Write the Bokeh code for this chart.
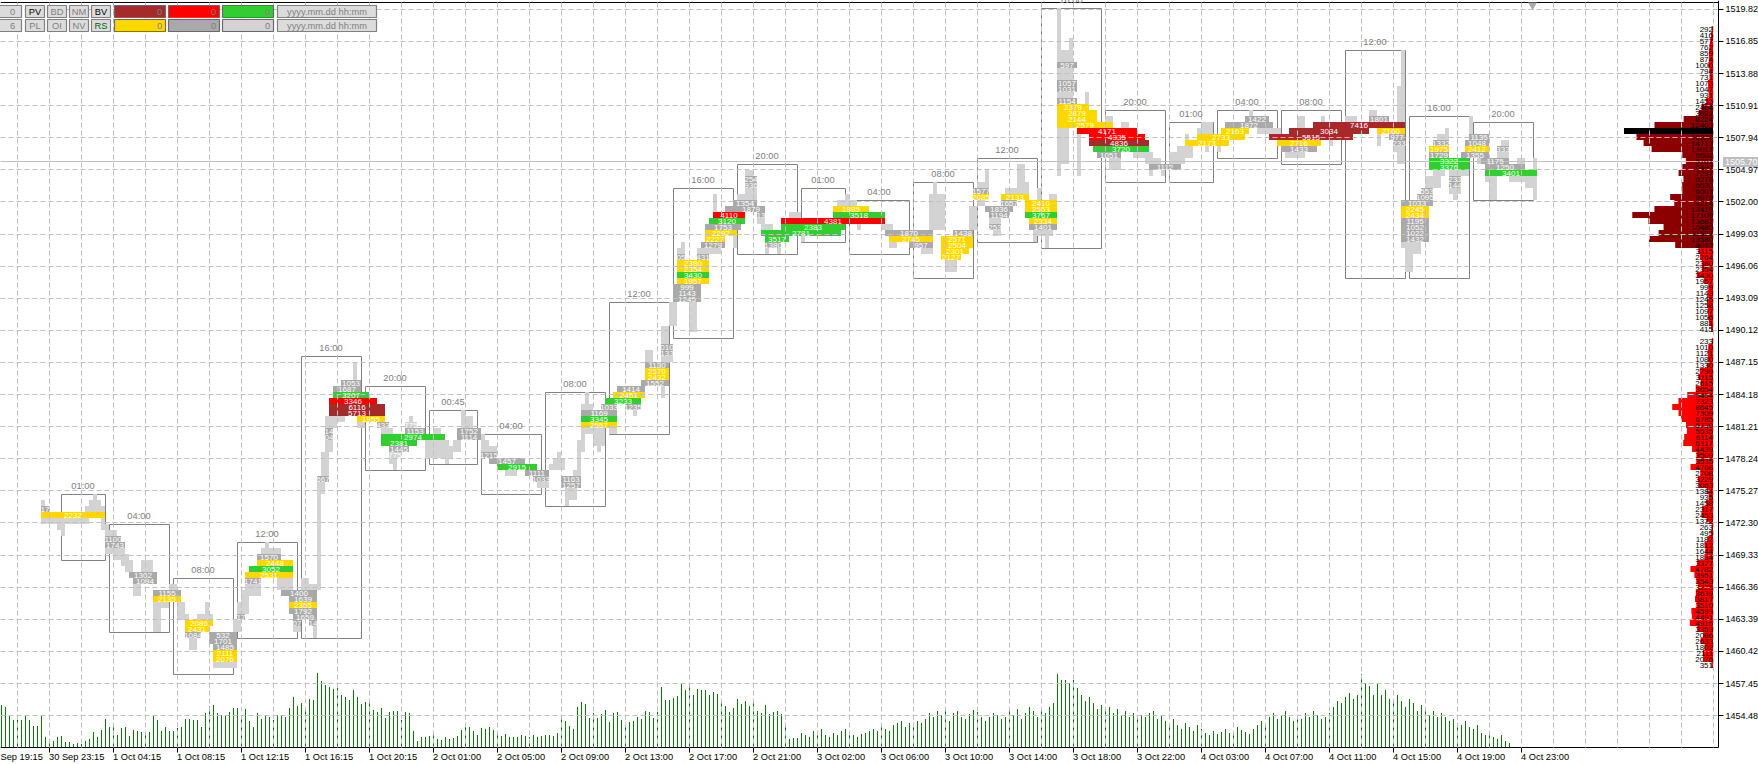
from bokeh.plotting import figure
from bokeh.embed import file_html
from bokeh.resources import INLINE
from bokeh.core.properties import value
from bokeh.models import ColumnDataSource, FixedTicker, Label, LabelSet, NumeralTickFormatter, Range1d

# ---- price scale -----------------------------------------------------------
PRICE_TICKS = [1519.82, 1516.85, 1513.88, 1510.91, 1507.94, 1504.97, 1502.00, 1499.03,
               1496.06, 1493.09, 1490.12, 1487.15, 1484.18, 1481.21, 1478.24, 1475.27,
               1472.30, 1469.33, 1466.36, 1463.39, 1460.42, 1457.45, 1454.48]
LAST_PRICE = 1505.70
TOP_PRICE = 1520.495   # price at the upper edge of the topmost price level
LEVEL_STEP = 0.55504   # price height of one level

# ---- time axis ---------------------------------------------------------------
TIME_LABELS = ["Sep 19:15", "30 Sep 23:15", "1 Oct 04:15", "1 Oct 08:15", "1 Oct 12:15",
               "1 Oct 16:15", "1 Oct 20:15", "2 Oct 01:00", "2 Oct 05:00", "2 Oct 09:00",
               "2 Oct 13:00", "2 Oct 17:00", "2 Oct 21:00", "3 Oct 02:00", "3 Oct 06:00",
               "3 Oct 10:00", "3 Oct 14:00", "3 Oct 18:00", "3 Oct 22:00", "4 Oct 03:00",
               "4 Oct 07:00", "4 Oct 11:00", "4 Oct 15:00", "4 Oct 19:00", "4 Oct 23:00"]

# ---- sessions: label, first slot, last slot, top level, bottom level ----------
SESSIONS = [
    ("01:00", 15, 26, 82, 93), ("04:00", 27, 42, 87, 105), ("08:00", 43, 58, 96, 112),
    ("12:00", 59, 74, 90, 106), ("16:00", 75, 90, 59, 106), ("20:00", 91, 106, 64, 78),
    ("00:45", 107, 119, 68, 77), ("04:00", 120, 135, 72, 82), ("08:00", 136, 151, 65, 84),
    ("12:00", 152, 167, 50, 72), ("16:00", 168, 183, 31, 56), ("20:00", 184, 199, 27, 42),
    ("01:00", 200, 211, 31, 40), ("04:00", 212, 227, 33, 42), ("08:00", 228, 243, 30, 46),
    ("12:00", 244, 259, 26, 40), ("16:00", 260, 275, 1, 41), ("20:00", 276, 291, 18, 30),
    ("01:00", 292, 303, 20, 30), ("04:00", 304, 319, 18, 26), ("08:00", 320, 335, 18, 27),
    ("12:00", 336, 351, 8, 46), ("16:00", 352, 367, 19, 46), ("20:00", 368, 383, 20, 33),
]

# ---- price-time cells: level, start slot, end slot, volume text ----------------
BROWN_ROWS = [(67, 82, 96, "6116"), (68, 82, 96, "5713"), (23, 272, 287, "4836"),
              (22, 317, 338, "5515"), (21, 322, 342, "3034"), (20, 328, 351, "7416")]
RED_ROWS = [(66, 82, 94, "3346"), (35, 178, 186, "4110"), (36, 195, 221, "4381"),
            (21, 269, 284, "4171"), (22, 272, 286, "4335")]
GREEN_ROWS = [(94, 62, 73, "3052"), (65, 83, 92, "3207"), (72, 95, 111, "2974"),
              (73, 95, 104, "2381"), (77, 124, 134, "2915"), (69, 145, 154, "3345"),
              (66, 151, 160, "3233"), (45, 169, 177, "3430"), (36, 177, 186, "3120"),
              (39, 191, 197, "3517"), (38, 190, 210, "2781"), (37, 195, 211, "2383"),
              (35, 208, 221, "3518"), (35, 256, 264, "3767"), (24, 273, 287, "3720"),
              (26, 357, 367, "3322"), (27, 357, 367, "3376"), (28, 371, 384, "3401")]
GOLD_ROWS = [(85, 10, 26, "2232"), (99, 38, 45, "2135"), (103, 46, 53, "2086"),
             (104, 46, 52, "2431"), (108, 53, 59, "2111"), (109, 53, 59, "2076"),
             (95, 61, 73, "2531"), (93, 64, 73, "2448"), (100, 72, 79, "2355"),
             (69, 89, 96, "1955"), (70, 145, 154, "2557"), (65, 153, 161, "2451"),
             (61, 161, 167, "2570"), (62, 161, 167, "2432"), (43, 169, 177, "2380"),
             (44, 169, 177, "2354"), (46, 169, 177, "1957"), (39, 176, 181, "2227"),
             (38, 176, 184, "2292"), (34, 208, 217, "1985"), (39, 222, 233, "2745"),
             (39, 235, 243, "2571"), (40, 235, 243, "2504"), (41, 235, 242, "2301"),
             (42, 235, 240, "2127"), (32, 243, 247, "2085"), (32, 250, 257, "2133"),
             (33, 256, 264, "2410"), (34, 256, 264, "2553"), (36, 257, 264, "2334"),
             (17, 264, 272, "2379"), (18, 264, 274, "2879"), (19, 264, 274, "2144"),
             (20, 264, 278, "2579"), (23, 296, 307, "2173"), (22, 299, 311, "2733"),
             (21, 305, 312, "2163"), (23, 319, 330, "2716"), (21, 344, 351, "2160"),
             (34, 350, 357, "2245"), (35, 350, 357, "2434"), (24, 357, 362, "1975"),
             (24, 366, 372, "2412")]
DARK_ROWS = [(84, 10, 12, "17"), (89, 26, 30, "1100"), (90, 26, 31, "1743"),
             (95, 32, 39, "1302"), (96, 33, 39, "1094"), (98, 38, 45, "1155"),
             (105, 46, 50, "1084"), (105, 52, 59, "532"), (106, 52, 59, "1701"),
             (107, 53, 59, "1485"), (102, 59, 61, "17"), (96, 61, 65, "1741"),
             (92, 64, 70, "1570"), (98, 70, 79, "1400"), (99, 72, 79, "1639"),
             (101, 72, 79, "1792"), (102, 73, 79, "1659"), (103, 73, 75, "07"),
             (103, 77, 79, "14"), (79, 79, 82, "667"), (71, 81, 83, "14"), (72, 81, 83, "04"),
             (63, 85, 90, "1053"), (64, 83, 90, "1687"), (70, 94, 97, "433"),
             (71, 101, 106, "1153"), (74, 97, 102, "1445"), (71, 114, 120, "1752"),
             (72, 114, 120, "1114"), (75, 120, 124, "1215"), (76, 122, 131, "1457"),
             (78, 131, 137, "1111"), (79, 133, 137, "1033"), (79, 140, 145, "1163"),
             (80, 140, 145, "1257"), (68, 145, 154, "1169"), (67, 150, 154, "1033"),
             (64, 154, 161, "1414"), (67, 156, 160, "1235"), (63, 160, 167, "1552"),
             (60, 161, 167, "1130"), (57, 165, 168, "010"), (58, 165, 168, "133"),
             (47, 168, 175, "999"), (48, 168, 175, "1143"), (49, 168, 175, "1245"),
             (42, 174, 177, "431"), (42, 169, 171, "05"), (40, 175, 181, "1279"),
             (37, 176, 185, "1753"), (34, 181, 184, ""), (33, 183, 189, "1354"),
             (34, 184, 191, "1879"), (29, 186, 189, "254"), (30, 186, 189, "936"),
             (35, 189, 191, "13"), (40, 191, 195, "1380"), (38, 221, 233, "1870"),
             (40, 227, 233, "957"), (38, 238, 243, "1438"), (31, 243, 247, "1577"),
             (33, 250, 254, "1657"), (34, 246, 253, "1836"), (35, 247, 252, "1194"),
             (37, 247, 250, "253"), (37, 257, 264, "1401"), (10, 264, 269, "597"),
             (13, 264, 269, "1057"), (14, 264, 269, "1031"), (16, 264, 269, "1154"),
             (25, 274, 280, "1051"), (27, 287, 295, "1112"), (20, 306, 318, "1872"),
             (19, 311, 317, "1422"), (24, 320, 329, "1433"), (19, 342, 347, "1801"),
             (22, 347, 351, "977"), (23, 348, 351, "233"), (33, 350, 358, "1033"),
             (36, 350, 357, "1195"), (37, 350, 357, "1052"), (38, 350, 357, "1022"),
             (39, 350, 357, "1432"), (31, 355, 358, "553"), (32, 354, 358, "1095"),
             (25, 357, 362, "1729"), (23, 358, 362, "1332"), (29, 362, 365, "233"),
             (30, 362, 365, "144"), (22, 367, 372, "1135"), (23, 366, 372, "1048"),
             (25, 365, 372, "1355"), (26, 370, 377, "1175"), (27, 371, 381, "1250"),
             (24, 374, 377, "333")]
LIGHT_ROWS = [(75, 97, 100, "775"), (70, 101, 104, "775")]

# ---- pale price ranges: start slot, end slot, top level, bottom level ----------
PALE_SPANS = [
    (10, 22, 86, 87), (10, 11, 83, 86), (11, 12, 84, 85), (14, 15, 86, 88), (15, 16, 86, 89),
    (21, 26, 84, 85), (22, 25, 83, 84), (23, 24, 82, 83), (25, 26, 86, 88), (26, 27, 87, 92),
    (27, 29, 88, 92), (28, 31, 91, 93), (30, 32, 92, 94), (31, 33, 93, 95), (33, 35, 96, 99),
    (35, 38, 93, 95), (42, 44, 97, 98), (38, 42, 100, 101), (38, 40, 101, 105),
    (44, 46, 100, 103), (46, 47, 102, 103), (49, 53, 102, 103), (51, 52, 100, 102),
    (47, 49, 106, 108), (53, 59, 110, 111), (58, 60, 103, 105), (60, 62, 98, 102),
    (59, 60, 100, 104), (60, 62, 99, 101), (61, 64, 97, 99), (64, 65, 97, 99),
    (65, 70, 91, 92), (66, 67, 90, 91), (69, 73, 96, 98), (73, 75, 104, 105), (78, 79, 104, 106),
    (75, 77, 96, 98), (77, 79, 97, 98), (79, 80, 82, 98), (79, 81, 80, 82), (80, 82, 75, 79),
    (81, 83, 73, 75), (81, 86, 69, 70), (81, 84, 70, 71), (88, 89, 60, 63), (89, 91, 70, 71),
    (95, 98, 71, 72), (102, 103, 69, 70), (97, 99, 76, 77), (98, 99, 77, 78), (108, 110, 71, 72),
    (106, 111, 73, 76), (111, 112, 73, 77), (112, 113, 74, 76), (113, 115, 73, 75),
    (115, 116, 68, 71), (116, 118, 69, 71), (120, 121, 72, 74), (120, 122, 73, 74),
    (120, 124, 74, 75), (126, 129, 78, 79), (134, 137, 80, 81), (137, 141, 77, 78),
    (138, 141, 76, 77), (139, 140, 75, 76), (141, 144, 81, 83), (141, 142, 83, 84),
    (143, 145, 78, 79), (144, 145, 73, 78), (145, 146, 71, 75), (145, 148, 67, 68),
    (146, 147, 65, 67), (145, 151, 71, 72), (148, 151, 72, 74), (149, 150, 74, 75),
    (152, 154, 71, 72), (158, 159, 68, 69), (161, 163, 58, 60), (165, 166, 64, 66),
    (165, 168, 59, 60), (165, 167, 54, 57), (167, 169, 50, 54), (172, 174, 50, 55),
    (170, 171, 40, 42), (169, 171, 41, 42), (174, 180, 41, 42), (178, 179, 32, 35),
    (183, 184, 39, 41), (184, 189, 32, 33), (186, 189, 31, 32), (186, 188, 28, 29),
    (189, 191, 36, 37), (190, 193, 37, 38), (191, 192, 41, 42), (194, 195, 41, 42),
    (197, 200, 35, 36), (200, 201, 39, 40), (209, 211, 33, 34), (211, 212, 32, 34),
    (212, 214, 33, 34), (214, 215, 37, 38), (220, 223, 37, 38), (222, 224, 40, 41),
    (232, 236, 32, 38), (233, 234, 30, 32), (230, 233, 41, 42), (236, 239, 43, 45),
    (242, 244, 34, 38), (244, 246, 30, 31), (246, 247, 28, 31), (244, 246, 33, 34),
    (251, 257, 31, 32), (254, 257, 30, 31), (254, 256, 27, 30), (247, 250, 36, 37),
    (248, 250, 38, 39), (258, 259, 38, 40), (259, 263, 38, 39), (261, 262, 39, 41),
    (262, 264, 32, 33), (259, 260, 31, 33), (264, 265, 1, 29), (265, 267, 8, 10),
    (267, 268, 6, 10), (264, 268, 11, 13), (264, 268, 15, 16), (264, 267, 21, 26),
    (265, 267, 26, 27), (269, 270, 22, 29), (271, 272, 15, 17), (276, 278, 19, 20),
    (280, 282, 20, 21), (277, 280, 26, 28), (283, 288, 25, 26), (286, 290, 26, 27),
    (287, 288, 28, 29), (290, 291, 28, 29), (292, 296, 25, 27), (294, 298, 24, 26),
    (296, 297, 22, 24), (299, 303, 21, 22), (300, 303, 20, 21), (301, 302, 24, 25),
    (304, 305, 24, 25), (312, 313, 18, 19), (314, 320, 21, 22), (317, 319, 22, 23),
    (321, 326, 25, 26), (324, 326, 19, 21), (330, 331, 19, 20), (332, 333, 23, 24),
    (342, 344, 18, 19), (336, 339, 19, 20), (344, 345, 22, 24), (350, 351, 8, 20),
    (349, 350, 14, 20), (348, 351, 24, 25), (349, 351, 25, 27), (350, 351, 40, 41),
    (351, 353, 40, 45), (353, 355, 40, 42), (356, 360, 29, 31), (358, 361, 28, 29),
    (362, 367, 28, 29), (359, 362, 22, 23), (361, 362, 21, 22), (362, 365, 31, 32),
    (363, 364, 32, 33), (367, 368, 19, 22), (369, 372, 26, 27), (375, 377, 23, 24),
    (374, 377, 25, 26), (371, 374, 29, 30), (372, 374, 30, 33), (377, 381, 29, 30),
    (379, 381, 26, 27), (381, 383, 29, 31), (383, 384, 26, 33),
]

# ---- whole-range volume profile, one value per level from PROFILE_FIRST_LEVEL ---
PROFILE_FIRST_LEVEL = 4
PROFILE_POC_LEVEL = 21
PROFILE_BROWN_LEVELS = (17, 40)
PROFILE_VALUES = [292, 416, 577, 762, 859, 874, 1000, 794, 731, 1073, 1047, 931, 1455, 2464, 3022,
                  6224, 12403, 18870, 16220, 14713, 13017, 6502, 5761, 6497, 7297, 6278, 6530,
                  6503, 9079, 8214, 12419, 17109, 13687, 10480, 11527, 13580, 8012, 3115, 2764,
                  2380, 2354, 3430, 1957, 999, 1143, 1245, 1258, 1097, 1056, 881, 415, 0, 233,
                  1010, 1121, 1080, 1330, 2799, 3115, 2615, 3654, 5454, 7323, 8645, 7309, 6785,
                  5730, 5535, 6114, 6317, 4439, 3509, 3535, 4768, 2708, 3229, 3063, 1384, 935,
                  1458, 2317, 2453, 1372, 263, 495, 1187, 1812, 1644, 1834, 3377, 4782, 3951,
                  3543, 3225, 3639, 3817, 3510, 4593, 4491, 4916, 3353, 2086, 2633, 1802, 2111,
                  2076, 351]
PROFILE_RIGHT_SLOT = 428
PROFILE_VALUE_PER_SLOT = 848

# ---- volume sub-window ----------------------------------------------------------
VOLUME = [42, 40, 32, 27, 27, 27, 32, 27, 21, 21, 32, 10, 7, 6, 10, 11, 5, 5, 3, 4, 3, 6, 8, 15, 10,
          17, 28, 20, 22, 12, 19, 20, 11, 17, 16, 15, 15, 15, 32, 27, 16, 20, 16, 16, 19, 20, 28, 28,
          27, 27, 20, 34, 41, 42, 34, 32, 31, 35, 39, 39, 31, 38, 26, 20, 34, 28, 32, 30, 27, 32, 31,
          30, 39, 50, 41, 44, 37, 48, 47, 74, 66, 62, 60, 58, 59, 52, 50, 47, 57, 50, 43, 45, 45, 37,
          35, 39, 29, 35, 36, 36, 27, 35, 34, 16, 6, 10, 10, 11, 13, 8, 7, 10, 8, 9, 11, 17, 22, 20,
          16, 12, 19, 18, 20, 17, 16, 11, 13, 10, 10, 10, 12, 11, 10, 12, 10, 11, 12, 12, 11, 14, 31,
          26, 21, 18, 40, 45, 43, 29, 34, 29, 33, 37, 25, 34, 35, 27, 22, 25, 26, 30, 28, 36, 35, 29,
          35, 60, 47, 47, 49, 51, 63, 57, 60, 52, 58, 57, 57, 52, 55, 53, 45, 41, 35, 39, 48, 43, 46,
          41, 44, 36, 34, 42, 33, 35, 36, 33, 20, 8, 9, 9,
          14, 12, 10, 16, 14, 18, 12, 10, 14, 12, 16, 18, 14, 12, 10, 13,
          14, 16, 18, 16, 20, 18, 16, 22, 24, 26, 20, 24, 22, 26, 24,
          28, 34, 30, 36, 32, 38, 26, 34, 36, 30, 28, 33, 37, 35, 30, 26, 30, 34, 32, 28,
          30, 36, 32, 38, 28, 34, 40, 36, 30, 38, 34, 40, 44,
          73, 67, 67, 64, 67, 59, 52, 46, 50, 44, 38, 42, 36, 40, 34, 38, 32,
          36, 30, 34, 28, 32, 30, 34, 36, 28, 32, 26, 24, 28, 22, 18, 24, 20, 16, 22, 18,
          14, 12, 16, 13, 15, 18, 14, 16, 20, 17, 15, 13, 18, 22, 26, 24, 30, 34, 28, 32, 36, 30, 26,
          32, 28, 34, 30, 36, 32, 28, 30, 34, 40, 46, 44, 50, 54, 48, 52, 73, 64, 61, 52, 64, 52, 57,
          48, 44, 52, 46, 40, 48, 44, 36, 42, 38, 32, 36, 30, 34, 30, 26, 28, 24, 22, 26, 20, 18, 22,
          14, 12, 16, 10, 8, 12, 6, 4]

# ---- terminal buttons in the upper left corner ---------------------------------
SMALL_BUTTONS = [["0", "PV", "BD", "NM", "BV"], ["6", "PL", "OI", "NV", "RS"]]
SMALL_BUTTON_INK = [["#808080", "#000000", "#808080", "#808080", "#000000"],
                    ["#808080", "#808080", "#808080", "#808080", "#006400"]]
SWATCH_FILLS = [["#A52A2A", "#FF0000", "#32CD32"], ["#FFD700", "#A9A9A9", "#D3D3D3"]]
SWATCH_TEXT = "0"
DATE_FIELD = "yyyy.mm.dd hh:mm"

# ---- styles ------------------------------------------------------------------------
FONT = value("Liberation Sans")
CELL_FONT_SIZE = "8px"
AXIS_FONT_SIZE = "9.3px"
CANVAS_W, CANVAS_H = 1758, 764
LEVEL_PX = 6
SLOT_PX = 4


def price(level):
    return TOP_PRICE - LEVEL_STEP * level


# The frame fills the canvas; the axes are fixed inside it, so that the last-price
# tag and the time labels, which lie outside the chart proper, are not clipped away.
# Ranges are set a half pixel off so that cells land exactly on whole pixels.
SLOT_LEFT, SLOT_AXIS = -0.125, 429.375
LEVEL_TOP, LEVEL_AXIS = -0.25, 124.25
LINE_DX, LINE_DY = 0.125, 0.083      # from a cell edge to the pixel line next to it

p = figure(frame_width=CANVAS_W, frame_height=CANVAS_H, output_backend="svg", toolbar_location=None,
           x_range=Range1d(SLOT_LEFT, SLOT_LEFT + CANVAS_W / SLOT_PX),
           y_range=Range1d(price(LEVEL_TOP + CANVAS_H / LEVEL_PX), price(LEVEL_TOP)),
           y_axis_location="right", min_border=0, outline_line_color=None)
p.extra_y_ranges["vol"] = Range1d(746.5 - CANVAS_H, 746.5)
p.extra_x_ranges["px_x"] = Range1d(0.5, CANVAS_W + 0.5)
p.extra_y_ranges["px_y"] = Range1d(CANVAS_H + 0.5, 0.5)
p.grid.visible = False

tick_slots = [-4 + 16 * i for i in range(len(TIME_LABELS))]
grid_slots = [s + LINE_DX for s in range(-4, 432, 8)]


def snapped(level_value):
    """Nearest price that falls on a whole pixel, so dashed lines stay crisp."""
    code_px = round((TOP_PRICE - level_value) / LEVEL_STEP * LEVEL_PX + 1.5)
    return price((code_px - 1.5) / LEVEL_PX)


# grid, above the cells as in the reference
grid_style = dict(line_color="#C0C0C0", line_dash="5 3", line_width=1, level="annotation")
p.segment(x0=grid_slots, x1=grid_slots, y0=[price(LINE_DY)] * len(grid_slots),
          y1=[price(LEVEL_AXIS)] * len(grid_slots), **grid_style)
p.segment(x0=[SLOT_LEFT] * len(PRICE_TICKS), x1=[SLOT_AXIS] * len(PRICE_TICKS),
          y0=[snapped(t) for t in PRICE_TICKS], y1=[snapped(t) for t in PRICE_TICKS], **grid_style)

# axes
xa = p.xaxis[0]
xa.fixed_location = price(LEVEL_AXIS)
xa.bounds = (SLOT_LEFT, SLOT_AXIS)
xa.ticker = FixedTicker(ticks=tick_slots)
xa.major_label_overrides = {t: "" for t in tick_slots}
ya = p.yaxis[0]
ya.fixed_location = SLOT_AXIS
ya.bounds = (price(LEVEL_AXIS), price(LEVEL_TOP))
ya.ticker = FixedTicker(ticks=PRICE_TICKS)
ya.formatter = NumeralTickFormatter(format="0.00")
ya.major_label_text_font = "Liberation Sans"
ya.major_label_text_font_size = "9px"
ya.major_label_standoff = 2
for a in (xa, ya):
    a.axis_line_color = "#000000"
    a.axis_line_width = 1
    a.major_tick_line_color = "#000000"
    a.major_tick_out = 5
    a.major_tick_in = 0
    a.minor_tick_line_color = None
    a.major_label_text_color = "#000000"

# upper border of the chart
p.segment(x0=[SLOT_LEFT], x1=[SLOT_AXIS], y0=[price(LINE_DY)], y1=[price(LINE_DY)],
          line_color="#000000", line_width=1)

# session boxes
p.quad(left=[s[1] + LINE_DX for s in SESSIONS], right=[s[2] + LINE_DX for s in SESSIONS],
       top=[price(s[3] + LINE_DY) for s in SESSIONS], bottom=[price(s[4] + LINE_DY) for s in SESSIONS],
       fill_color=None, line_color="#808080", line_width=1, level="underlay")

# pale ranges
p.quad(left=[s[0] for s in PALE_SPANS], right=[s[1] for s in PALE_SPANS],
       top=[price(s[2]) for s in PALE_SPANS], bottom=[price(s[3]) for s in PALE_SPANS],
       fill_color="#D3D3D3", line_color=None)

# cells
label_x, label_y, label_t = [], [], []
for rows, colour in ((LIGHT_ROWS, "#D3D3D3"), (DARK_ROWS, "#A9A9A9"), (GOLD_ROWS, "#FFD700"),
                     (GREEN_ROWS, "#32CD32"), (RED_ROWS, "#FF0000"), (BROWN_ROWS, "#A52A2A")):
    p.quad(left=[r[1] for r in rows], right=[r[2] for r in rows],
           top=[price(r[0]) for r in rows], bottom=[price(r[0] + 1) for r in rows],
           fill_color=colour, line_color=None)
    for r in rows:
        label_x.append((r[1] + r[2]) / 2)
        label_y.append(price(r[0] + 0.5))
        label_t.append(r[3])
p.text(x=label_x, y=label_y, text=label_t, text_color="#FFFFFF", text_font=FONT,
       text_font_size=CELL_FONT_SIZE, text_align="center", text_baseline="middle", level="overlay")

# session captions
p.text(x=[(s[1] + s[2]) / 2 for s in SESSIONS], y=[price(s[3]) for s in SESSIONS],
       text=[s[0] for s in SESSIONS], text_color="#808080", text_font=FONT,
       text_font_size=AXIS_FONT_SIZE, text_align="center", text_baseline="bottom",
       y_offset=-3, level="overlay")

# right-hand profile
levels = [PROFILE_FIRST_LEVEL + i for i in range(len(PROFILE_VALUES))]


def profile_colour(k):
    if k == PROFILE_POC_LEVEL:
        return "#000000"
    return "#8B0000" if PROFILE_BROWN_LEVELS[0] <= k <= PROFILE_BROWN_LEVELS[1] else "#FF0000"


p.quad(left=[PROFILE_RIGHT_SLOT - v / PROFILE_VALUE_PER_SLOT for v in PROFILE_VALUES],
       right=[PROFILE_RIGHT_SLOT] * len(levels),
       top=[price(k) for k in levels], bottom=[price(k + 1) for k in levels],
       fill_color=[profile_colour(k) for k in levels], line_color=None)
p.text(x=[PROFILE_RIGHT_SLOT] * len(levels), y=[price(k + 0.5) for k in levels],
       text=[str(v) if v else "" for v in PROFILE_VALUES], text_color="#000000", text_font=FONT,
       text_font_size=CELL_FONT_SIZE, text_align="right", text_baseline="middle", level="overlay")

# volume
p.vbar(x=[i + 0.125 for i in range(len(VOLUME))], top=VOLUME, bottom=0, width=0.25,
       fill_color="#008000", line_color=None, y_range_name="vol")

# last price line and its tag
p.segment(x0=[SLOT_LEFT], x1=[SLOT_AXIS], y0=[snapped(LAST_PRICE)], y1=[snapped(LAST_PRICE)],
          line_color="#C0C0C0", line_width=1, level="annotation")
p.add_layout(Label(x=1723, x_units="data", x_range_name="px_x", y=LAST_PRICE, text="%.2f" % LAST_PRICE,
                   text_color="#FFFFFF", text_font="Liberation Sans", text_font_size="9px",
                   text_baseline="middle", background_fill_color="#BEBEBE", padding=2,
                   border_line_color=None, level="overlay"))

# time labels, written from the tick rightwards
time_src = ColumnDataSource(dict(x=[SLOT_LEFT] + tick_slots[1:], y=[757] * len(tick_slots), t=TIME_LABELS))
p.add_layout(LabelSet(x="x", y="y", text="t", source=time_src, y_range_name="px_y",
                      text_font=FONT, text_font_size=AXIS_FONT_SIZE,
                      text_color="#000000", text_align="left", text_baseline="middle"))

# shift marker at the top
p.scatter(x=[1532.5], y=[5], marker="inverted_triangle", size=9, fill_color="#A9A9A9",
          line_color=None, x_range_name="px_x", y_range_name="px_y", level="overlay")

# terminal buttons
ROW_TOPS = [5.5, 19.5]
BTN_H = 12
BTN_X = [(-6, 21.5), (25.5, 44.5), (47.5, 66.5), (69.5, 88.5), (91.5, 110.5)]
SW_X = [(114.5, 165.5), (168.5, 219.5), (222.5, 273.5)]
DATE_X = (277.5, 376.5)
qs = dict(x_range_name="px_x", y_range_name="px_y", level="overlay")
tx = dict(text_font=FONT, text_font_size=AXIS_FONT_SIZE, text_baseline="middle", **qs)
for r, top in enumerate(ROW_TOPS):
    p.quad(left=[b[0] for b in BTN_X] + [DATE_X[0]], right=[b[1] for b in BTN_X] + [DATE_X[1]],
           top=[top] * 6, bottom=[top + BTN_H] * 6, fill_color="#DCDCDC", line_color="#808080",
           line_width=1.2, **qs)
    p.quad(left=[b[0] for b in SW_X], right=[b[1] for b in SW_X], top=[top] * 3,
           bottom=[top + BTN_H] * 3, fill_color=SWATCH_FILLS[r], line_color="#696969",
           line_width=1.2, **qs)
    p.text(x=[12.5] + [(b[0] + b[1]) / 2 for b in BTN_X[1:]], y=[top + BTN_H / 2] * 5,
           text=SMALL_BUTTONS[r], text_color=SMALL_BUTTON_INK[r], text_align="center", **tx)
    p.text(x=[b[1] - 6 for b in SW_X], y=[top + BTN_H / 2] * 3, text=[SWATCH_TEXT] * 3,
           text_color="#808080", text_align="center", **tx)
    p.text(x=[(DATE_X[0] + DATE_X[1]) / 2], y=[top + BTN_H / 2], text=[DATE_FIELD],
           text_color="#808080", text_align="center", **tx)

open("out.html", "w").write(file_html(p, INLINE))
